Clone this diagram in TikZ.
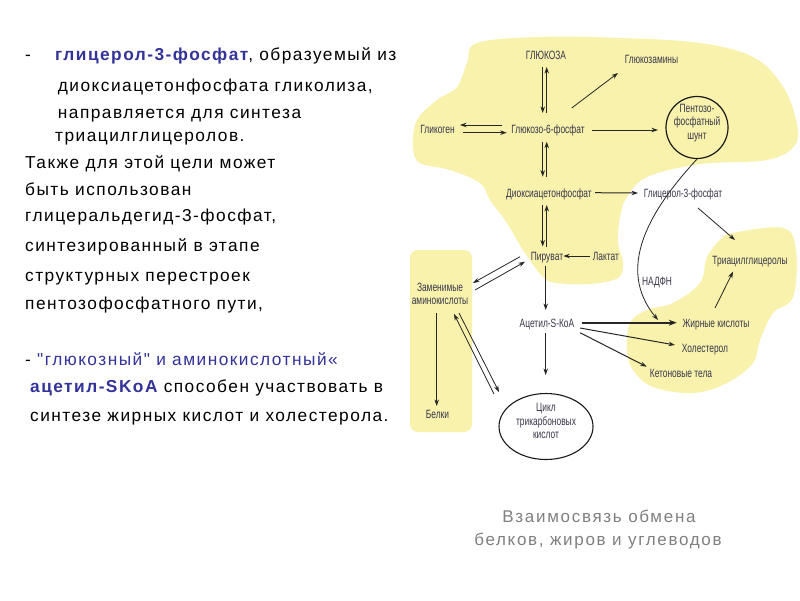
\documentclass[tikz,border=0pt]{standalone}
\usepackage{fontspec}
\setmainfont{Liberation Sans}
\newfontfamily\dfont[FakeStretch=0.7]{Liberation Sans}
\newfontfamily\ltfont[LetterSpace=8.5]{Liberation Sans}
\newfontfamily\capfont[LetterSpace=10]{Liberation Sans}
\usetikzlibrary{arrows.meta,shapes.geometric}
\definecolor{yel}{RGB}{249,242,172}
\definecolor{navy}{RGB}{51,51,153}
\definecolor{dtext}{RGB}{55,55,75}
\definecolor{capgray}{RGB}{128,128,128}
\begin{document}
\begin{tikzpicture}[x=1pt,y=-1pt,
  lt/.style={anchor=base west,inner sep=0pt,font=\ltfont\fontsize{17.3}{20}\selectfont},
  captext/.style={anchor=base,inner sep=0pt,text=capgray,font=\capfont\fontsize{17}{19}\selectfont},
  dl/.style={font=\dfont\fontsize{12}{13.3}\selectfont,text=dtext,inner sep=1pt,text height=9pt,text depth=0pt},
  dlm/.style={font=\dfont\fontsize{12}{13.6}\selectfont,text=dtext,inner sep=1pt,align=center},
  arr/.style={-{Stealth[length=6.5pt,width=4.5pt]},line width=0.8pt,draw=black!85},
  blob/.style={fill=yel,draw=none}]
\fill[white] (0,0) rectangle (800,600);
\useasboundingbox (0,0) rectangle (800,600);

% yellow regions
\fill[blob] plot[smooth cycle,tension=0.6] coordinates {
 (477,43) (540,37) (620,38) (700,43) (753,57) (782,85) (796,120) (795,145)
 (767,160) (700,164) (647,177) (627,197) (620,217) (618,243) (623,263)
 (618,278) (590,284) (557,283) (543,277) (523,250) (507,223) (490,200)
 (480,183) (450,170) (420,163) (413,147) (417,120) (437,100) (457,87) (467,63)};
\fill[blob] plot[smooth cycle,tension=0.6] coordinates {
 (733,233) (783,228) (796,250) (793,297) (773,313) (760,340) (753,363)
 (727,383) (693,393) (653,387) (633,370) (627,350) (630,323) (647,310)
 (673,303) (700,283) (707,257) (720,240)};
\fill[blob,rounded corners=8pt] (410,250) rectangle (472,432);

% left text
\node[lt] (t1a) at (25,60.7) {-};
\node[lt] (t1) at (55,60.7) {\textcolor{navy}{\bfseries глицерол-3-фосфат}, образуемый из};
\node[lt] (t2) at (57.7,91.7) {диоксиацетонфосфата гликолиза,};
\node[lt] (t3) at (57.7,118) {направляется для синтеза};
\node[lt] (t4) at (55,141.7) {триацилглицеролов.};
\node[lt] (t5) at (25,168) {Также для этой цели может};
\node[lt] (t6) at (25,195.7) {быть использован};
\node[lt] (t7) at (25,221.7) {глицеральдегид-3-фосфат,};
\node[lt] (t8) at (25,251.7) {синтезированный в этапе};
\node[lt] (t9) at (25,281.7) {структурных перестроек};
\node[lt] (t10) at (25,309) {пентозофосфатного пути,};
\node[lt] (t11) at (25,365) {- \textcolor{navy}{"глюкозный" и аминокислотный«}};
\node[lt] (t12) at (30,392.7) {\textcolor{navy}{\bfseries ацетил-SKoA} способен участвовать в};
\node[lt] (t13) at (30,421.7) {синтезе жирных кислот и холестерола.};

% caption
\node[captext] (c1) at (599,522) {Взаимосвязь обмена};
\node[captext] (c2) at (598,545) {белков, жиров и углеводов};

% diagram nodes
\node[dl] (glu) at (546,55) {ГЛЮКОЗА};
\node[dl] (gam) at (651.5,59) {Глюкозамины};
\node[circle,draw=black!90,line width=1.2pt,minimum size=62pt,inner sep=0pt] (pps) at (697,127.5) {};
\node[dlm] (ppst) at (697,123) {Пентозо-\\фосфатный\\шунт};
\node[dl] (gly) at (437.5,129) {Гликоген};
\node[dl] (g6p) at (548,129) {Глюкозо-6-фосфат};
\node[dl] (dap) at (549,192.5) {Диоксиацетонфосфат};
\node[dl] (g3p) at (683,193) {Глицерол-3-фосфат};
\node[dl] (pyr) at (547,256) {Пируват};
\node[dl] (lac) at (606,256) {Лактат};
\node[dlm] (aa) at (440,294) {Заменимые\\аминокислоты};
\node[dl] (tag) at (750,260) {Триацилглицеролы};
\node[dl] (nadph) at (657,281) {НАДФН};
\node[dl] (aco) at (547,323.3) {Ацетил-S-КоА};
\node[dl] (fa) at (716,323.3) {Жирные кислоты};
\node[dl] (chol) at (705,348.3) {Холестерол};
\node[dl] (ket) at (681,373.3) {Кетоновые тела};
\node[dl] (bel) at (437.5,414) {Белки};
\node[ellipse,draw=black!90,line width=1.1pt,minimum width=94pt,minimum height=66pt,inner sep=0pt] (tca) at (546,426.5) {};
\node[dlm] (tcat) at (546,421) {Цикл\\трикарбоновых\\кислот};

% connectors
\draw[arr] ([shift={(-3.3,12)}]glu.center) -- ([shift={(-5.3,-16)}]g6p.center);
\draw[arr] ([shift={(-1.3,-16)}]g6p.center) -- ([shift={(0.7,12)}]glu.center);
\draw[arr] ([shift={(23.7,-21)}]g6p.center) -- ([shift={(-33.5,14)}]gam.center);
\draw[arr,line width=1pt] ([shift={(43.7,1)}]g6p.center) -- ([shift={(-39,2.5)}]pps.center);
\draw[arr] ([shift={(-46.3,-4)}]g6p.center) -- ([shift={(22.5,-4)}]gly.center);
\draw[arr] ([shift={(25.5,3.7)}]gly.center) -- ([shift={(-41.3,3.7)}]g6p.center);
\draw[arr] ([shift={(-5.3,12.7)}]g6p.center) -- ([shift={(-6.3,-15.8)}]dap.center);
\draw[arr] ([shift={(-2.3,-15.8)}]dap.center) -- ([shift={(-1.3,12.7)}]g6p.center);
\draw[arr,line width=1pt] ([shift={(46,0.2)}]dap.center) -- ([shift={(-45,0)}]g3p.center);
\draw[arr] ([shift={(-6.3,12.5)}]dap.center) -- ([shift={(-4.3,-9.5)}]pyr.center);
\draw[arr] ([shift={(-0.3,-9.5)}]pyr.center) -- ([shift={(-2.3,12.5)}]dap.center);
\draw[arr,line width=1pt] ([shift={(-16.5,0)}]lac.center) -- ([shift={(16.3,0)}]pyr.center);
\draw[arr] ([shift={(-27,0.7)}]pyr.center) -- ([shift={(33,-11)}]aa.center);
\draw[arr] ([shift={(35,-4)}]aa.center) -- ([shift={(-22,5.7)}]pyr.center);
\draw[arr] ([shift={(-1.3,10)}]pyr.center) -- ([shift={(-1.3,-13.3)}]aco.center);
\draw[arr] ([shift={(-1.3,9.7)}]aco.center) -- ([shift={(-0.3,-51.5)}]tca.center);
\draw[arr] ([shift={(-3.3,19)}]aa.center) -- ([shift={(-0.8,-8)}]bel.center);
\draw[arr] ([shift={(-52,-32.5)}]tca.center) -- ([shift={(14,20)}]aa.center);
\draw[arr] ([shift={(19,19)}]aa.center) -- ([shift={(-47,-34.5)}]tca.center);
\draw[arr,line width=2pt,-{Stealth[length=8pt,width=6pt]}] ([shift={(34.7,-0.6)}]aco.center) -- ([shift={(-39.3,-0.6)}]fa.center);
\draw[arr,line width=1pt] ([shift={(33,4.7)}]aco.center) -- ([shift={(-30,-3.3)}]chol.center);
\draw[arr,line width=1pt] ([shift={(33,9.4)}]aco.center) -- ([shift={(-34.3,-6.6)}]ket.center);
\draw[arr] ([shift={(15,15)}]g3p.center) -- ([shift={(-15,-20)}]tag.center);
\draw[arr] ([shift={(-1,-15.3)}]fa.center) -- ([shift={(-17,11.7)}]tag.center);
\draw[arr] (pps.south) .. controls (650,210) and (615,268) .. ([shift={(-58,-3.3)}]fa.center);
\end{tikzpicture}
\end{document}
